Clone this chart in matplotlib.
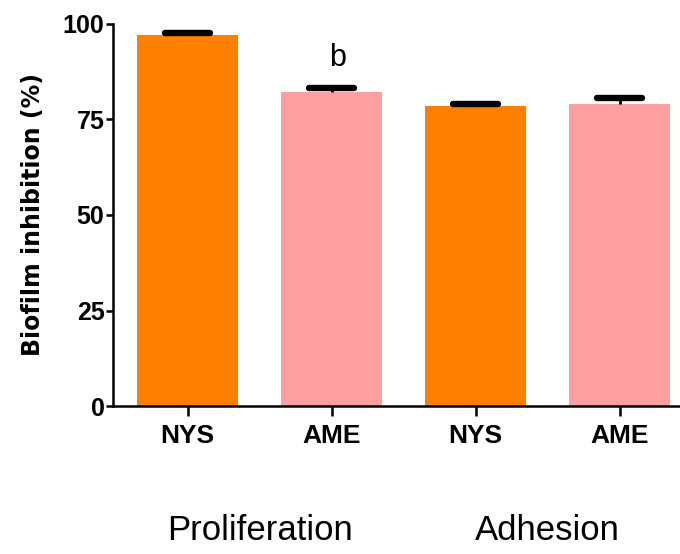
import numpy as np
import matplotlib
matplotlib.use("Agg")
from matplotlib import pyplot as plt

# biofilm inhibition, mean and upper error
labels = ["NYS", "AME", "NYS", "AME"]
means = [97.1, 82.2, 78.5, 79.1]
errs = [0.5, 1.0, 0.6, 1.5]
colors = ["#FF8000", "#FFA0A0", "#FF8000", "#FFA0A0"]
groups = ["Proliferation", "Adhesion"]

plt.rcParams["font.family"] = ["Liberation Sans", "DejaVu Sans"]

fig = plt.figure(figsize=(6.8, 5.54), dpi=100)
ax = fig.add_axes([0.166, 0.267, 0.834, 0.69])

x = np.arange(len(labels))
ax.bar(x, means, width=0.7, color=colors, zorder=2)

# upper error bars only, rounded caps
tops = np.array(means) + np.array(errs)
ax.vlines(x, means, tops, color="black", linewidth=2, zorder=3)
ax.hlines(tops, x - 0.155, x + 0.155, color="black", linewidth=4.6,
          capstyle="round", zorder=3)

ax.text(1.04, 91, "b", ha="center", va="center", fontsize=22)

ax.set_xlim(-0.52, 3.42)
ax.set_ylim(0, 100)
ax.set_yticks([0, 25, 50, 75, 100])
ax.set_xticks(x)
ax.set_xticklabels(labels, fontsize=19, fontweight="bold")
for t in ax.get_yticklabels():
    t.set_fontsize(18)
    t.set_fontweight("bold")
ax.set_ylabel("Biofilm inhibition (%)", fontsize=17, fontweight="bold",
              family="DejaVu Sans", labelpad=13)

for s in ["top", "right"]:
    ax.spines[s].set_visible(False)
for s in ["left", "bottom"]:
    ax.spines[s].set_linewidth(1.8)
ax.tick_params(axis="y", length=5, width=1.8, pad=1)
ax.tick_params(axis="x", length=7, width=1.8, pad=6)

# group names under the tick labels
for i, g in enumerate(groups):
    fig.text((ax.transData.transform((2 * i + 0.5, 0))[0]) / fig.bbox.width,
             0.025, g, ha="center", va="baseline", fontsize=25)

fig.savefig("out.png", dpi=100)
